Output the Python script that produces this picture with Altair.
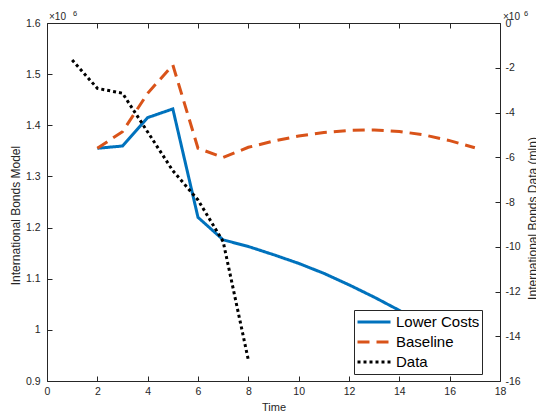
import altair as alt
import pandas as pd

# ---- data ----
time_model = [2, 3, 4, 5, 6, 7, 8, 9, 10, 11, 12, 13, 14, 15, 16, 17]
lower_costs = [1.355, 1.3595, 1.415, 1.432, 1.220, 1.176, 1.163, 1.147, 1.130,
               1.1105, 1.088, 1.064, 1.038, 1.012, 0.985, 0.958]
baseline = [1.355, 1.3875, 1.4625, 1.518, 1.355, 1.337, 1.357, 1.369, 1.379,
            1.386, 1.390, 1.391, 1.388, 1.381, 1.370, 1.356]
time_data = [1, 2, 3, 4, 5, 6, 7, 8]
data_vals = [-1.65, -2.92, -3.14, -4.87, -6.6, -7.91, -9.77, -15.06]

series_names = ["Lower Costs", "Baseline", "Data"]
series_colors = ["#0072BD", "#D95319", "#000000"]
series_dashes = [[1, 0], [12, 7], [3, 3]]

x_ticks = [0, 2, 4, 6, 8, 10, 12, 14, 16, 18]
left_ticks = [0.9, 1, 1.1, 1.2, 1.3, 1.4, 1.5, 1.6]
right_ticks = [-16, -14, -12, -10, -8, -6, -4, -2, 0]

model_df = pd.DataFrame({
    "Time": time_model * 2,
    "value": lower_costs + baseline,
    "series": ["Lower Costs"] * len(time_model) + ["Baseline"] * len(time_model),
})
data_df = pd.DataFrame({"Time": time_data, "value": data_vals,
                        "series": ["Data"] * len(time_data)})

W, H = 453, 358
FONT = "Liberation Sans"
AX = "#262626"

xs = alt.Scale(domain=[0, 18], nice=False, zero=False)
yl = alt.Scale(domain=[0.9, 1.6], nice=False, zero=False)
yr = alt.Scale(domain=[-16, 0], nice=False, zero=False)
color_scale = alt.Scale(domain=series_names, range=series_colors)
dash_scale = alt.Scale(domain=series_names, range=series_dashes)

legend = alt.Legend(
    title=None, orient="none", legendX=307, legendY=287, direction="vertical",
    symbolType="stroke", symbolSize=1089, symbolStrokeWidth=3, clipHeight=20,
    labelFontSize=15, labelFont=FONT, labelColor="#000000", labelOffset=4,
    fillColor="white", strokeColor=AX, padding=2, rowPadding=0, zindex=1,
)

color_enc = alt.Color("series:N", scale=color_scale, legend=legend)
dash_enc = alt.StrokeDash("series:N", scale=dash_scale, legend=legend)

model = alt.Chart(model_df).mark_line(strokeWidth=3).encode(
    x=alt.X("Time:Q", scale=xs, axis=alt.Axis(
        orient="bottom", values=x_ticks, ticks=False, labelPadding=5,
        labelFlush=False, title="Time", titleFontSize=11,
        titleY=26, titleBaseline="middle")),
    y=alt.Y("value:Q", scale=yl, axis=alt.Axis(
        orient="left", values=left_ticks, ticks=False, labelPadding=7,
        labelExpr="'' + datum.value", title="International Bonds Model",
        titleAngle=270, titleX=-32, titleY=192, titleAlign="center",
        titleBaseline="middle")),
    color=color_enc,
    strokeDash=dash_enc,
    order="Time:Q",
)

data_line = alt.Chart(data_df).mark_line(strokeWidth=3).encode(
    x=alt.X("Time:Q", scale=xs, axis=None),
    y=alt.Y("value:Q", scale=yr, axis=alt.Axis(
        orient="right", values=right_ticks, ticks=False, labelPadding=5,
        labelAlign="left", labelExpr="'' + datum.value",
        title="International Bonds Data (mln)", titleAngle=270,
        titleX=32, titleY=195, titleAlign="center", titleBaseline="middle")),
    color=color_enc,
    strokeDash=dash_enc,
    order="Time:Q",
)

# invisible layers that carry the inward ticks, the top frame and the x10^6 notes
frame_left = alt.Chart(model_df).mark_line(strokeOpacity=0).encode(
    x=alt.X("Time:Q", scale=xs, axis=alt.Axis(
        orient="bottom", offset=-H, values=x_ticks, labels=False, tickSize=5,
        domain=True, title="6", titleFontSize=7.5, titleX=25.5, titleY=-8,
        titleAlign="left", titleBaseline="alphabetic", titleAngle=0)),
    y=alt.Y("value:Q", scale=yl, axis=alt.Axis(
        orient="right", offset=-W, values=left_ticks, labels=False, tickSize=5,
        domain=False, title="×10", titleFontSize=10, titleX=1.5, titleY=-3.7,
        titleAlign="left", titleBaseline="alphabetic", titleAngle=0)),
)

frame_right = alt.Chart(data_df).mark_line(strokeOpacity=0).encode(
    x=alt.X("Time:Q", scale=xs, axis=alt.Axis(
        orient="top", offset=-H, values=x_ticks, labels=False, tickSize=5,
        domain=False, title="6", titleFontSize=7.5, titleX=476.5, titleY=-366,
        titleAlign="left", titleBaseline="alphabetic", titleAngle=0)),
    y=alt.Y("value:Q", scale=yr, axis=alt.Axis(
        orient="left", offset=-W, values=right_ticks, labels=False, tickSize=5,
        domain=False, title="×10", titleFontSize=10, titleX=2.5, titleY=-3.7,
        titleAlign="left", titleBaseline="alphabetic", titleAngle=0)),
)

chart = alt.layer(model, data_line, frame_left, frame_right).resolve_scale(
    x="independent", y="independent"
).properties(
    width=W, height=H,
    autosize=alt.AutoSizeParams(type="none"),
    padding={"left": 47, "top": 23, "right": 36, "bottom": 36},
    background="white",
).configure_axis(
    labelFont=FONT, titleFont=FONT, labelFontSize=10.5, titleFontSize=12,
    titleFontWeight="normal", domainColor=AX, tickColor=AX, labelColor=AX,
    titleColor=AX, grid=False, domainWidth=1, tickWidth=1,
).configure_view(stroke=None)

chart.save("out.html", embed_options={"renderer": "svg", "actions": False})
